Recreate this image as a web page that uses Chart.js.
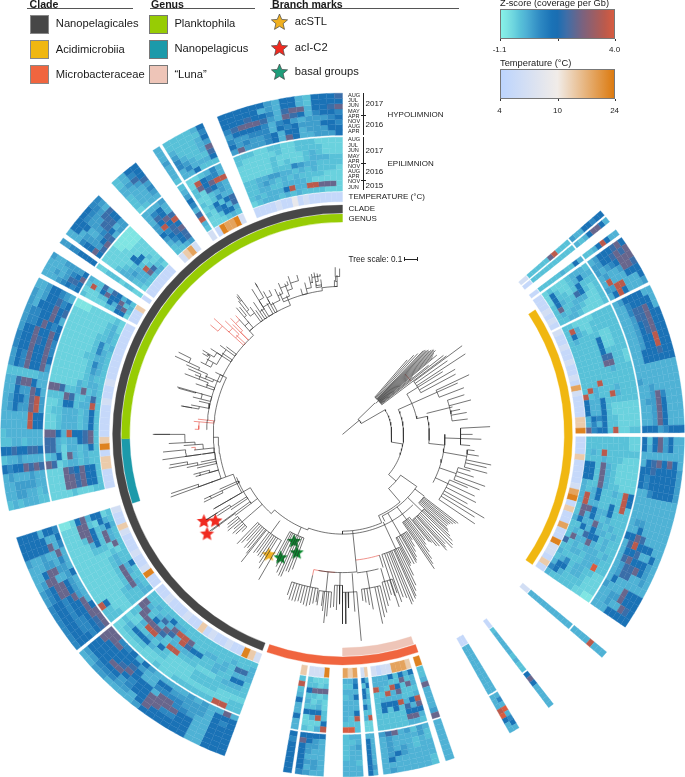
<!DOCTYPE html>
<html><head><meta charset="utf-8">
<style>
html,body{margin:0;padding:0;background:#fff}
#wrap{position:relative;width:685px;height:777px;overflow:hidden;font-family:"Liberation Sans",Arial,sans-serif;color:#1a1a1a}
canvas{position:absolute;left:0;top:0}
.t{position:absolute;white-space:nowrap;line-height:1;transform:translateY(-50%)}
.b{position:absolute}
</style>
<script src="https://cdn.jsdelivr.net/npm/chart.js@4/dist/chart.umd.js"></script>
</head><body><div id="wrap">
<canvas id="rings" width="685" height="777"></canvas>
<canvas id="tree" width="685" height="777"></canvas>
</div>
<script>
// ---------- legend / label content ----------
const cladeNames=["Nanopelagicales","Acidimicrobiia","Microbacteraceae"];
const cladeColors=["#474747","#f0b711","#f0653f"];
const genusNames=["Planktophila","Nanopelagicus","\u201cLuna\u201d"];
const genusColors=["#97cc04","#1c9aaa","#eec5b8"];
const markNames=["acSTL","acI-C2","basal groups"];
const markColors=["#f0b020","#f02a20","#1f9d7a"];
const hypoMonths=["AUG","JUL","JUN","MAY","APR","NOV","AUG","APR"];
const epiMonths=["AUG","JUL","JUN","MAY","APR","NOV","AUG","APR","NOV","JUN"];
const zTicks=["-1.1","4.0"];
const tempTicks=["4","10","24"];

// ---------- z-score and temperature levels used by the cell letters ----------
const zLevels={a:-.85,b:-.49,c:-.23,d:.02,e:.33,f:.69,g:1.2,h:1.8,i:2.35,j:3.59,k:4};
const tempLevels={t:5,u:6.5,v:9,w:14,x:19,y:23};

// ---------- heat cells: "hypolimnion(8) epilimnion(10)", one string per column, clockwise ----------
const R1=["ggfggdde cccjiccccc"];
const R2=["dgiigdcd cccccccccc"];
const R3=["ddgjgdcc dgccdccccc"];
const R4=["gihggged cdddcbbbcb","ihihggee ddgdcbbcgb","iiigfede cccgcbccgb","hiiedded cbcghccdgc","gggdddjd cbbdddccic","gdddjjee cbbbcddcdc","edddgjgd cbbbbcddcc"];
const R5=["ddgggged ccccbbbbcc","dggggfdd cccccbbdjc","dgihhfdd cccccbcdgc","ggihhedd ccbbccccdc","ggihgedd ccbbgccccc","ggihgedd ccbbgccccc","ggjggedd ccccgccccc","ggjggedd bcchhccccc","gghgggdd bcciiccccc","ggggggdd cccdcccccc","dddddddd cccccccccc","dddddddd ccccccjccc","ddddddde cccdcccdjc","dddddedd cccdjccdcj","dddfiedd ccccccgddg","dddgieed bbbbbcgddg","dddgiedd bbbbbcgddg","dddgiedd bbbbccgfgd","dddgiedd bbbbccgdfd","gggfeggg ccbbjcggfi"];
const R6=["ddgeigcg bbcccccccc","ddgeigdg bbcccccccc","dddddddd ccccccjcdc","dgigihgd bbbcccdccc","egggghgg bbbbcdicgg","egggggfg bbbbcdicgg","egggggfg bbbbcdicgg","eggggfdd bbbccdiccd","dddddddd gjcdccgdcd","dddddddd gjccccgdjd","dddddddd cjcgccddjd","dddddeed cccgddgiic","dddddgdd cccdcdgdic","ddddhigg ccdcdiddgd","ddgggjhd cdcddgdgcc","dgddhggd ccdcgghcdc","degggihd ccdcdiddic","degihhed cdcdddcdch","deddhhed ccdddcddcc","ddddddgd cckddccccd","gggiddde bbccddcfdc","gggieedd bbbcddcggd","ghiddedd bbbccccdgf","gggggddd aabbcccccd"];
const R7=["dddjdddd dddddddddd"];
const R8=["dddddgig ccdcdddddc"];
const R9=["dgfdkdfd dddddddddd","ddgkjddd dddddddddd"];
const R10=["dddddddd ieddddidcc"];
const R11=["ccdddccd cdgijdcddg","ddddddee digdgccicd","ddddccdc dighdcccig","ddddddde ccccjdigcc","dddeeddd cccggddjcg","dddgdddi ccccgdjcdd","edgeeeeh cccggdcddd","ddddddde cccccccjdd"];
const R12=["dedddddd bbjcdcdcgd","gggggggd bbdcgdggcg"];
const R13=["ddcddedd ccjgddgdgf","ddddddcd kccdddddcd","dddccccc kcddddcdcd"];
const R14=["dddddddg jgccbbcicb","deeddeeg dbjgdcbibb","ededeegg bbdgcbcicb","fgggggig cbbgcdcgcc"];
const R15=["ggggggfg ddgddgdcjc"];
const L1=["gggggggd ccbcccdddc","gggggfgi ccbcdgdhcc","gggggggd jbbcdgdhcc","dddddddd jbbcdcccdc","dddddeee cbccccddcc","ggggeeed cbccbddccc","ggggfeee cbccbccdcc","ggfiffed cbccbccdcc","ggfiifed cbbbccgccc","ggiiifgd cbbbcdgccc","giiidfgd bbbbcdhicc","eggggddd bbbbjdjjcc","ddgggdde cbccjddjdc","deffggeg bbcgcchidc","deegihgd bbdcdhidgc","dfgihggg bcgdjidhdc","efgigggf bcgcjigdcc","efggggif bcgcdiccdc","deggggii bcdbbiidcc","degggiii bbcbcciicc"];
const L2=["fgggfghi cccbbcccdd","fggffghi ccbbbcccdc","fggffgii jgbbbcdidc","fggfggig bbbbbbcicc","fggfggid bbbbbbcidc","fggfgied bbbbbbcidg","efgiiged bbbbbbcdcc","efgiiged bbbbbbcdcc","deiiddeg bbbbbbbcbc","ddgiieed bbbbcccbic","dddeedfd bbbbdgcidc","eddeddid bbbcigcidc","gggggidf bbbiigcdgd","gggggddg bbbiicbgdc","ggggdggf aabgidggbc"];
const L3=["cdcdddcc bbbbcbbbcc","ddeeddcd bbbiihiggc","ddeeeedd bbbiihiggc","dedddedd bbbihgiggc","gfggihih ihbcddcdcc","cddedddd cdgbidcdcc","gghgghhg hhdbddcdgc","ccddcddd hhdcddghic","cddddddd iigdjgghic","dddddjgg bbcdddcdgc","dddddjgg bbcdddcdgc","degeeije bccdddcdgc","deggeije bbcggcddjc","ddgeeigd cccihccdhc","ddhiigdd iihccdicdc","ccccccdd bbbbbdcddc","egfiggie bbbbbbcdcc","egfiggig bbbbbbcedc","fggiggif bbbbbbcfdc","fggihgif bbbbbccddc","eggiggig bbbbbbcfdc","effgigfg bbbbbbcfcd","effggigd bbbbbbccdc","edgggigh bbbbbbbcdc","edegghfg bbbbbbbcdb","ddeggfed aaabbbbbcb"];
const L4=["ddde dddd dedd edde feee ghfe fhge ggig cbcd bbjc bbcc bcgh bcid cggh cdgg ghid gicf bcdc"];
const L5=["eeffgggg bbcccbccbb"];
const L6=["dggggff dggfffe ddgeeed fedeehh gedehhg geefhhg ieghgde ghihdee bbbaaaa bbbaaaa bbbbaaa cbbbbbb dcbgbbb ddcggbb dedcbcb cddjcbb cddihcc bcccddb"];
const L7=["cdgg cdfg dehg ddeh cdde cddf cdde bcdd ddde dfgd dhgd egih ejgj gfhg eghi dfgh cdgh ccde"];
const L8=["dddedddc cdegfdhjdc"];
const L9=["ccccdg cccccf dcccdg ecccde fdccdi fedcch dfdddg ddgccc bbcdfd bjgffd cigijj cbhged bbcded cbcfdd bcgcgh cbfgdh bbcggd bbbcdc"];
const L10=["ggggggedggdcgggh gggggdedggdcgggg ggghggfdhiidgghi fhiiihedihgdfggf eggggfdfgedeeefg feefffdgfgeeeggf gefeefgdggdeeegg eieeefgdigddeeeg cccbbccbbcccbbbb cbbbbbcbbccccbbb bbbbbcbbbbcdcbbb bbbbbcbcbbcdddcc bbbbbcccfeddcccc ccddeeddcdcdcccb ccdedcdcdccccbbb ccddccddddcbbbbb cdcdddgjddjjiiib bcdddcdcdccccbbb"];

// ---------- sectors: start degree, end degree, cells, temperature letters ----------
const sectors=[
 [49.0,50.0,R1,"u"],[50.4,51.4,R2,"t"],[53.1,54.1,R3,"t"],
 [54.7,63.4,R4,"tttutut"],[64.0,89.6,R5,"uttuttuttutxuttttwwy"],[90.4,124.2,R6,"tttwttttuxytwttxttyuutwt"],
 [129.4,130.6,R7,"u"],[141.9,142.9,R8,"t"],[148.9,150.7,R9,"tt"],[160.9,162.4,R10,"y"],
 [163.5,173.1,R11,"wxxxuutu"],[174.0,175.6,R12,"wu"],[176.5,179.9,R13,"xwx"],[183.2,188.0,R14,"yuuu"],[188.6,190.0,R15,"w"],
 [200.2,230.4,L1,"uwyttuttutwttutttutt"],[231.0,252.5,L2,"ttyuttutttuwttu"],[257.2,297.4,L3,"tttwwtywtttttuttuttttttttt"],
 [298.2,302.4,L4,"tttw"],[304.2,305.2,L5,"t"],[306.0,314.5,L6,"ttttttt"],[317.5,322.8,L7,"uwxu"],
 [326.3,327.6,L8,"u"],[328.2,335.8,L9,"tyxxyu"],[338.5,360,L10,"ttttuttvtutttttt"]];

// ---------- annotation rings: start degree, end degree ----------
const cladeSpans=[[57,124.3,1],[160.8,199.2,2],[200.4,360,0]];
const genusSpans=[[161.2,180,2],[252,269,1],[269,360,0]];

// ---------- tree, as (degree, radius) pairs ----------
const pathsBlack=[
[50,0,50,22,46,22,46,46],[50,22,60,22,60,50,99,50,99,62],[66,62,131,62,131,72],[66,62,66,77,58,77],[66,77,78,77,78,88,96,88,96,104],
[90,104,118,104],[125,72,139.5,72,139.5,90],[125,72,125,92,154,92,154,98],[139.5,90,156,90,156,98],
[156,98,180,98,180,101],[135,101,180,101],[180,101,200,101,200,103,222,103,222,108,240,108,240,118,250,118,250,126,268.7,126,268.7,131],
[250,126,250,131,296,131,296,135,318,135,318,141,338,141,338,147,352,147,352,150,358,150],[272,138,296,138,296,135],
[174,98,174,128],[163,128,163,141],[174,128,174,140],[174,140,190,140],[165,141,174,141],[229,108,229,122],[233,108,233,116,248,116]];
const pathsRed=[[174,128,163,128],[183,140,192,140,192,146],[46,88,52,88],[264,150,265,154]];
const combs=[
[47,46,50,[41,100,42,108,43,112,44,118,44.5,120,45,120,45.5,122,46,122,46.5,124,47,126,47.5,126,48,127,48.5,124,49,122,49.5,120,50,125,50.7,92,51.3,112,52,130,53,132]],
[58,77,90,[53.5,151,55,130,56.8,149,58,120,60,132,62,130]],[66,77,105,[64.8,142,66,128,69,132]],[76,88,112,[72,130,75,135,76,115,78,122,80,128,83,128]],
[92,104,120,[87,150,90,132,92,141,95,130]],[100,104,128,[97,135,99,140,101.6,154,103,150,105,152]],[109,104,122,[106,135,108,140,110,154,112,150]],[115,104,118,[113,138,115,148,117,152,119,145,120.5,167,122,158,124,162]],
[127,92,104,[127.5,148,128.2,146,129,144,129.7,142,130.4,141,131.2,141,132,144]],
[134,92,112,[132.5,146,133.3,150,134,155,135,158,135.9,160,136.8,152,137.5,155,138,158,139,150,139.8,148,140.5,142]],
[143,92,108,[141,140,142,136,142.8,140,143.5,148,144.3,155,145,160,145.6,165]],
[150,92,118,[146.5,128,147.2,135,148,140,148.8,145,149.5,148,150,150,151,150,152,148,152.6,150]],
[155,98,128,[153.2,160,154,170,154.8,175,155.5,180,156,182,157,184,157.7,186,158.5,178,159.5,176,160.5,180,161.8,184]],
[192,146,158,[189,172,190,174,191,176,192,178,193,177,194,176,195,175,196,176,197,176,198,176,199,172]],
[186,140,160,[184,176,185,185,185.7,192,186.5,180,187,175,188.5,175]],[181,140,153,[180,170,181,172,182,178,183,175]],
[176,141,160,[174.8,210,176,180,178,176,179,192,180,192]],[170,141,158,[166,186,167,190,168,196,170,180,171,175,172,172,173,170]],[164,141,155,[161,170,162,172,163,170,164,175,165,180]],
[216,108,124,[224,154,223,150,222,145,221,152,220,150,219,155,218.5,165,217,150,216,148,215,150,214,150,213,155,212,160,210,170]],
[204,103,112,[208.5,140,207.5,145,206.7,150,205.5,155,204.4,157,203.5,157,202.5,150,201.5,150,200.4,146]],
[229,122,135,[226,142,227,148,228,150,229,146,230,152,231,150,232,148]]];
const ladders=[
[357,150,358,155,357.5,160,359,168],[350,151,352,153,350,157,351,165],[344,147,346,152,348,157,349,162,352,164],[338,147,336,150,339,156,341,162,344,168],[332,141,331,150,335,155,337,161,340,165],
[330,141,328,152,331,158,333,164],[327,141,326,150,328,160,330,172,330,176],[325,141,324,152,322,158,323,170,322.5,176],[320,141,318,148,320,155,321,166],
[307,135,306,146,303,152,301,158,300,164],[304,135,303,146,299,150,297,156,300.6,160],[296,135,293,142,292,150,294,160,295,172,296.6,186],[290,138,289,146,291,156,293,170],[286,138,284,148,286,155,285.7,173],[283,138,281,148,280,155,280,165],
[262,131,264,142,266,150,267,160,270,175,270,191],[259,131,262,145,262,160,264.4,183],[257,131,258,150,259,160,260,178],[254,131,254,140,255,150,254,155],[250,131,250,140,250,155,251,184],[246,116,245,135,244,148,245,155],[240,118,240,130,240,150],[236,116,237,135,238,150,237.9,162],[233,116,234,135,233.7,165]];
const laddersRed=[[313,135,312,146,314,155,312,164,309.6,174],[315,135,315,146,316,156,318,162],[276,131,275,146,272,150]];
const starMarks=[[211.5,143,0],[237.9,166,1],[235.8,156,1],[233.7,170.6,1],[206.7,140,2],[204.4,119,2],[201.2,128.7,2]];
const starFill=["#f0b020","#f02a20","#0b8a2f"];

// ---------- colour scales ----------
const zStops=[[0,"#85f2e8"],[.05,"#7fe5e3"],[.12,"#6ad2de"],[.17,"#58c1d8"],[.22,"#4fb2d5"],[.28,"#3f9ecc"],[.35,"#2d88c2"],[.45,"#1a72b6"],[.5,"#1b6eb2"],[.58,"#3f6ea8"],[.72,"#7a627f"],[.92,"#bb5a4c"],[1,"#d85c40"]];
const tStops=[[0,"#bcd4fd"],[.5,"#f1ece8"],[1,"#dc7a0f"]];
function hex(c){return [1,3,5].map(i=>parseInt(c.substr(i,2),16));}
function ramp(st,t){t=Math.max(0,Math.min(1,t));for(let i=1;i<st.length;i++){if(t<=st[i][0]){const f=(t-st[i-1][0])/(st[i][0]-st[i-1][0]),a=hex(st[i-1][1]),b=hex(st[i][1]);return "rgb("+a.map((v,k)=>Math.round(v+(b[k]-v)*f)).join(",")+")";}}return st[st.length-1][1];}
const zColor=l=>ramp(zStops,(zLevels[l]+1.1)/5.1);
const tColor=l=>{const v=tempLevels[l];return ramp(tStops,v<10?(v-4)/6*.5:.5+(v-10)/14*.5);};
const css=st=>"linear-gradient(to right,"+st.map(s=>s[1]+" "+s[0]*100+"%").join(",")+")";

// ---------- rings through a doughnut chart ----------
const cellsOf=arr=>arr.join(" ").replace(/ /g,"");
function ringFrom(list){
  const data=[],bg=[];let pos=0;
  list.forEach(s=>{if(s[0]>pos+1e-6){data.push(s[0]-pos);bg.push("rgba(0,0,0,0)");}data.push(s[1]-s[0]);bg.push(s[2]);pos=s[1];});
  if(pos<360-1e-6){data.push(360-pos);bg.push("rgba(0,0,0,0)");}
  return {data,backgroundColor:bg,borderColor:bg,borderWidth:.35};
}
function heatRow(row){
  const list=[];
  sectors.forEach(s=>{const cells=cellsOf(s[2]),n=s[3].length,w=(s[1]-s[0])/n;
    for(let j=0;j<n;j++)list.push([s[0]+j*w,s[0]+(j+1)*w,zColor(cells[j*18+row]||"c")]);});
  return ringFrom(list);
}
[L4,L6,L7,L9,L10].forEach(a=>{const rows=a[0].split(" "),n=rows[0].length,out=[];
  for(let j=0;j<n;j++){out.push(rows.map(r=>r[j]).join(""));}a.length=0;out.forEach(c=>a.push(c));});
const tempList=[];sectors.forEach(s=>{const n=s[3].length,w=(s[1]-s[0])/n;for(let j=0;j<n;j++)tempList.push([s[0]+j*w,s[0]+(j+1)*w,tColor(s[3][j])]);});
const gapRing=w=>({data:[360],backgroundColor:["rgba(0,0,0,0)"],borderWidth:0,weight:w});
const ds=[];
for(let r=0;r<8;r++){const d=heatRow(r);d.weight=5.25;ds.push(d);}
ds.push(gapRing(2));
for(let r=8;r<18;r++){const d=heatRow(r);d.weight=5.4;ds.push(d);}
ds.push(gapRing(1));
let d=ringFrom(tempList);d.weight=9.6;ds.push(d);
ds.push(gapRing(3.4));
d=ringFrom(cladeSpans.map(s=>[s[0],s[1],cladeColors[s[2]]]));d.weight=8;ds.push(d);
ds.push(gapRing(1));
d=ringFrom(genusSpans.map(s=>[s[0],s[1],genusColors[s[2]]]));d.weight=8;ds.push(d);
const totalW=ds.reduce((a,b)=>a+b.weight,0);
new Chart(document.getElementById("rings"),{type:"doughnut",
 data:{datasets:ds},
 options:{responsive:false,animation:false,events:[],cutout:((342-totalW)/342*100)+"%",layout:{padding:{top:93}},
 plugins:{legend:{display:false},tooltip:{enabled:false}}}});

// ---------- tree through a scatter chart ----------
const pt=(a,r)=>({x:r*Math.sin(a*Math.PI/180),y:r*Math.cos(a*Math.PI/180)});
function stair(out,a1,r1,a2,r2){
  const n=Math.max(1,Math.ceil(Math.abs(a2-a1)/2));
  for(let i=0;i<=n;i++)out.push(pt(a1+(a2-a1)*i/n,r1));
  out.push(pt(a2,r2));
}
function addPath(out,p){for(let i=0;i+3<p.length;i+=2)stair(out,p[i],p[i+1],p[i+2],p[i+3]);out.push({x:null,y:null});}
function addLadder(out,p){addPath(out,p);for(let i=2;i<p.length;i+=2){out.push(pt(p[i-2],p[i-1]));out.push(pt(p[i-2],p[i+1]+1.5));out.push({x:null,y:null});}}
function addComb(out,c){const [a,r0,r1,t]=c;out.push(pt(a,r0),pt(a,r1),{x:null,y:null});
  const as=t.filter((v,i)=>i%2==0),lo=Math.min(...as),hi=Math.max(...as);addPath(out,[lo,r1,hi,r1]);
  for(let i=0;i<t.length;i+=2){out.push(pt(t[i],r1),pt(t[i],t[i+1]),{x:null,y:null});}}
const black=[],red=[];
pathsBlack.forEach(p=>addPath(black,p));combs.forEach(c=>addComb(black,c));ladders.forEach(p=>addLadder(black,p));
pathsRed.forEach(p=>addPath(red,p));laddersRed.forEach(p=>addLadder(red,p));
function starImg(color,size,edge){const c=document.createElement("canvas");c.width=c.height=size;const g=c.getContext("2d"),R=size/2-1,r=R*.45;
  g.beginPath();for(let i=0;i<10;i++){const q=i*Math.PI/5-Math.PI/2,m=i%2?r:R;g.lineTo(size/2+m*Math.cos(q),size/2+m*Math.sin(q));}g.closePath();g.fillStyle=color;g.fill();if(edge){g.strokeStyle="#444";g.lineWidth=.7;g.stroke();}return c;}
const starDs=starFill.map((col,k)=>({type:"scatter",data:starMarks.filter(s=>s[2]==k).map(s=>pt(s[0],s[1])),pointStyle:starImg(col,17),showLine:false}));
const line=(data,color)=>({data,showLine:true,borderColor:color,borderWidth:.65,pointRadius:0,spanGaps:false,fill:false});
new Chart(document.getElementById("tree"),{type:"scatter",
 data:{datasets:[line(black,"#2a2a2a"),line(red,"#e8584e"),...starDs]},
 options:{responsive:false,animation:false,events:[],layout:{padding:0},
 scales:{x:{type:"linear",display:false,min:-342.5,max:342.5},y:{type:"linear",display:false,min:-342,max:435}},
 plugins:{legend:{display:false},tooltip:{enabled:false}}}});

// ---------- html text and keys ----------
const W=document.getElementById("wrap");
function T(s,x,y,fs,extra){const e=document.createElement("div");e.className="t";e.textContent=s;e.style.cssText="left:"+x+"px;top:"+y+"px;font-size:"+fs+"px;"+(extra||"");W.appendChild(e);return e;}
function B(x,y,w,h,st){const e=document.createElement("div");e.className="b";e.style.cssText="left:"+x+"px;top:"+y+"px;width:"+w+"px;height:"+h+"px;"+st;W.appendChild(e);return e;}
[["Clade",29.6,27,106],["Genus",151,149.5,105.5],["Branch marks",272,270,188.5]].forEach(h=>{T(h[0],h[1],3.5,10.6,"font-weight:bold;");B(h[2],8,h[3],1,"background:#555");});
const rowY=[23.5,49.5,75];
cladeNames.forEach((n,i)=>{B(29.6,[15,40,65][i],19.2,19,"background:"+cladeColors[i]+";border:.6px solid #888;box-sizing:border-box");T(n,55.8,rowY[i],11.2);});
genusNames.forEach((n,i)=>{B(149,[15,40,65][i],19,19,"background:"+genusColors[i]+";border:.6px solid #777;box-sizing:border-box");T(n,174.4,[23.5,48.5,75][i],11.2);});
markNames.forEach((n,i)=>{const y=[22,48,72.5][i];
  const c=starImg(markColors[i],19,true);c.style.cssText="position:absolute;left:269.5px;top:"+(y-9.5)+"px";W.appendChild(c);
  T(n,294.7,[22,48,71.5][i],11.2);});
T("Z-score (coverage per Gb)",500,3.5,9.25);
B(500,9,115,30,"background:"+css(zStops)+";border:1px solid #777;box-sizing:border-box");
T(zTicks[0],499.6,50,8,"transform:translate(-50%,-50%)");T(zTicks[1],614.6,50,8,"transform:translate(-50%,-50%)");
B(557.5,39,.8,2,"background:#333");B(500,39,.8,2,"background:#333");B(614.5,39,.8,2,"background:#333");
T("Temperature (\u00b0C)",500,63.5,9.3);
B(500,69,115,30,"background:"+css(tStops)+";border:1px solid #777;box-sizing:border-box");
B(557.5,99,.8,2,"background:#333");B(500,99,.8,2,"background:#333");B(614.5,99,.8,2,"background:#333");
[499.6,557.5,614.6].forEach((x,i)=>T(tempTicks[i],x,110.5,8,"transform:translate(-50%,-50%)"));
const hy=[96,101,106,111.5,116.5,122,127,132],ey=[140,145.5,151,156.5,161.5,167,172,177,182,187.5];
hypoMonths.forEach((m,i)=>T(m,348,hy[i],5.6));
epiMonths.forEach((m,i)=>T(m,348,ey[i],5.6));
B(362.5,93,.8,42,"background:#222");B(362.5,137,.8,53,"background:#222");
B(360.5,114.5,5,.7,"background:#222");B(360.5,163,5,.7,"background:#222");B(360.5,179.5,5,.7,"background:#222");
[["2017",104],["2016",125],["2017",151],["2016",172],["2015",185.5]].forEach(a=>T(a[0],365.5,a[1],8));
T("HYPOLIMNION",387.5,114.5,8);T("EPILIMNION",387.5,164,8);
T("TEMPERATURE (\u00b0C)",348.5,197,8);T("CLADE",348.5,209,8);T("GENUS",348.5,218.5,8);
T("Tree scale: 0.1",348.5,259.5,8.2);
B(404,259,13,.8,"background:#222");B(404,257,.8,4,"background:#222");B(416.5,257,.8,4,"background:#222");
</script></body></html>
